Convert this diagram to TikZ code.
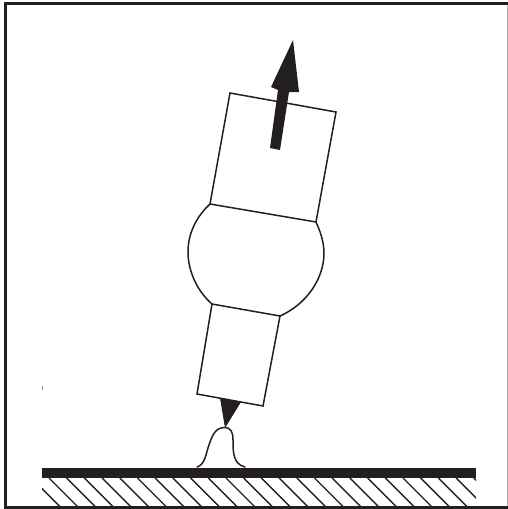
\documentclass[tikz,border=0pt]{standalone}
\usetikzlibrary{calc}
\definecolor{cink}{HTML}{231F20}
\tikzset{
  every picture/.style={x=1pt, y=-1pt, line join=miter},
  frame/.style={draw=cink, line width=3pt},
  outline/.style={draw=cink, line width=1.5pt},
  solid part/.style={fill=cink, draw=none},
  hatch/.style={draw=cink, line width=1.4pt},
}
\begin{document}
\begin{tikzpicture}
  \useasboundingbox (0,0) rectangle (508,509);
  % frame
  \draw[draw=cink!35, line width=1pt] (507,3.5) -- (507,507);
  \draw[frame] (508,3.5) -- (5.5,3.5) -- (5.5,507.5) -- (508,507.5);
  \draw[draw=cink!50, line width=0.5pt] (42.5,386) -- (42.5,390);
  % plate and its hatching
  \fill[solid part] (42,468) rectangle (476,478);
  \begin{scope}
    \clip (42,478) rectangle (476,506);
    \foreach \i in {-1,...,24} {
      \draw[hatch] ({49+17.7*\i},478) -- ++(30,30);
    }
  \end{scope}
  % bump on the plate
  \draw[outline, line cap=round] (197,467) .. controls (205,465) and (206,453) .. (209,445)
    .. controls (212,436) and (215,428) .. (224,427.5)
    .. controls (231,427.5) and (233,432) .. (233,440)
    .. controls (233,452) and (233,464) .. (245,467);
  % probe tip
  \fill[solid part] (220,398) -- (241,402) -- (225,428) -- cycle;
  % lower body
  \draw[outline] (212,304) -- (197,394) -- (263,406) -- (280,316) -- cycle;
  % ball
  \draw[outline] (210,204) .. controls (195,218) and (188,235) .. (188,252)
    .. controls (188,272) and (198,292) .. (212,304);
  \draw[outline] (316,222) .. controls (322,235) and (324,245) .. (324,253)
    .. controls (324,280) and (305,305) .. (280,316);
  % upper body
  \draw[outline] (230,93) -- (336,112) -- (316,222) -- (210,204) -- cycle;
  % arrow
  \fill[solid part] (270,148) -- (278,90) -- (271,87) -- (293,40) -- (299,92) -- (289,92) -- (280,150) -- cycle;
\end{tikzpicture}
\end{document}
